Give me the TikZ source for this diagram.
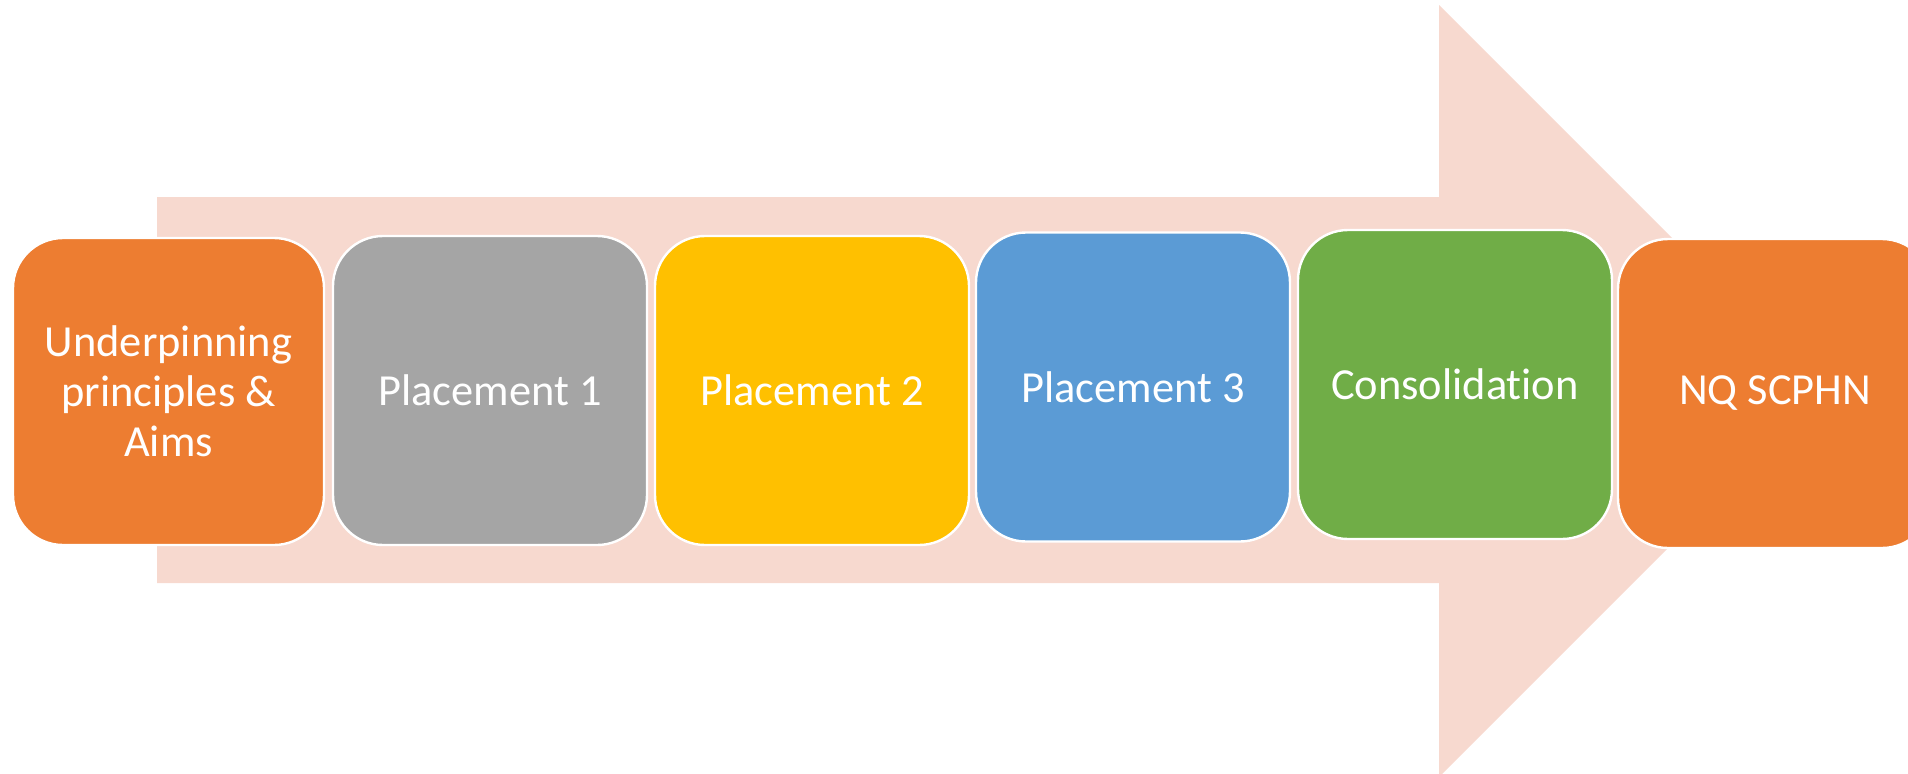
\documentclass[tikz,border=0pt]{standalone}
\usepackage{fontspec}
\setmainfont{Carlito}
\usepackage{tikz}
\definecolor{arrowpink}{RGB}{247,217,207}
\definecolor{aimsorange}{RGB}{237,125,49}
\definecolor{placegray}{RGB}{165,165,165}
\definecolor{placegold}{RGB}{255,192,0}
\definecolor{placeblue}{RGB}{91,155,213}
\definecolor{consgreen}{RGB}{112,173,71}
\tikzset{
  stage/.style={draw=white, line width=1.2pt, rounded corners=25pt,
    minimum width=157pt, minimum height=154.5pt, inner sep=4pt,
    text=white, align=center, font=\fontsize{22.2}{25}\selectfont}
}

\begin{document}
\begin{tikzpicture}[x=0.5pt,y=-0.5pt]
          \useasboundingbox (0,0) rectangle (1908,773);
          \clip (0,0) rectangle (1908,773);

          % big arrow behind the stages
          \fill[arrowpink] (157,197) -- (1439,197) -- (1439,5) -- (1825,391)
            -- (1439,777) -- (1439,583) -- (157,583) -- cycle;

          \node[stage, fill=aimsorange, minimum width=155.5pt, minimum height=153.5pt] (aims) at (168.5,391.5) {Underpinning\\principles \&\\Aims};
          \node[stage, fill=placegray] (pone) at (490,390.5) {Placement 1};
          \node[stage, fill=placegold] (ptwo) at (812,390.5) {Placement 2};
          \node[stage, fill=placeblue] (pthree) at (1133,387) {Placement 3};
          \node[stage, fill=consgreen] (cons) at (1455,384.5) {Consolidat\kern0pt ion};
          \node[stage, fill=aimsorange] (nq) at (1775,393.5) {NQ SCPHN};
         \end{tikzpicture}
\end{document}
